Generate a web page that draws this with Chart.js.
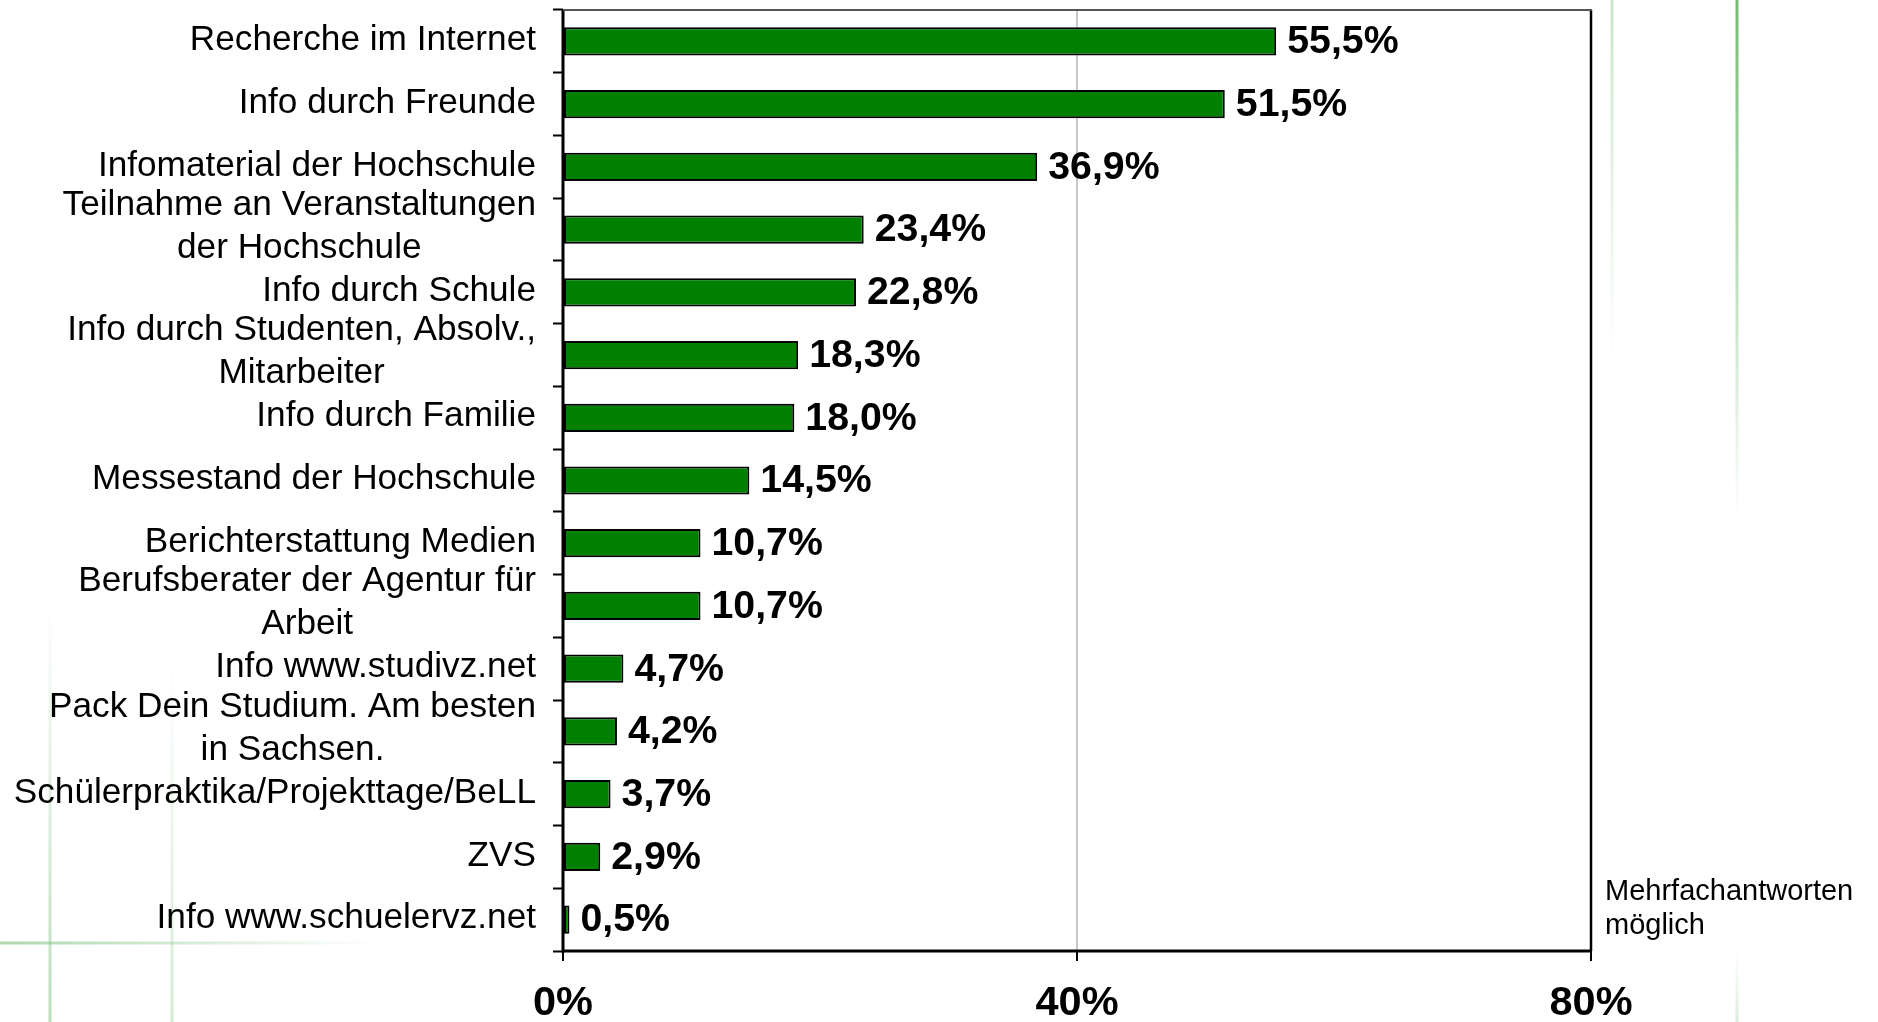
<!DOCTYPE html>
<html><head><meta charset="utf-8">
<script src="https://cdn.jsdelivr.net/npm/chart.js@4/dist/chart.umd.min.js"></script>
<style>html,body{margin:0;padding:0;background:#fff;overflow:hidden}#wrap{width:1878px;height:1022px;position:relative}</style>
</head><body><div id="wrap"><canvas id="c" width="1878" height="1022"></canvas></div>
<script>
const categories = [
  ["Recherche im Internet"],
  ["Info durch Freunde"],
  ["Infomaterial der Hochschule"],
  ["Teilnahme an Veranstaltungen", "der Hochschule"],
  ["Info durch Schule"],
  ["Info durch Studenten, Absolv.,", "Mitarbeiter"],
  ["Info durch Familie"],
  ["Messestand der Hochschule"],
  ["Berichterstattung Medien"],
  ["Berufsberater der Agentur für", "Arbeit"],
  ["Info www.studivz.net"],
  ["Pack Dein Studium. Am besten", "in Sachsen."],
  ["Schülerpraktika/Projekttage/BeLL"],
  ["ZVS"],
  ["Info www.schuelervz.net"]
];
const values = [55.5, 51.5, 36.9, 23.4, 22.8, 18.3, 18.0, 14.5, 10.7, 10.7, 4.7, 4.2, 3.7, 2.9, 0.5];
const xTicks = [0, 40, 80];
const note = ["Mehrfachantworten", "möglich"];

const FONT = '"Liberation Sans", Arial, Helvetica, sans-serif';

const decoPlugin = {
  id: 'deco',
  beforeDraw(chart) {
    const ctx = chart.ctx;
    ctx.save();
    ctx.fillStyle = '#fff';
    ctx.fillRect(0, 0, chart.width, chart.height);
    function vline(x, y0, y1, c0, c1, w) {
      const g = ctx.createLinearGradient(0, y0, 0, y1);
      g.addColorStop(0, c0); g.addColorStop(1, c1);
      ctx.strokeStyle = g; ctx.lineWidth = w;
      ctx.beginPath(); ctx.moveTo(x, y0); ctx.lineTo(x, y1); ctx.stroke();
    }
    function hline(y, x0, x1, c0, c1, w) {
      const g = ctx.createLinearGradient(x0, 0, x1, 0);
      g.addColorStop(0, c0); g.addColorStop(1, c1);
      ctx.strokeStyle = g; ctx.lineWidth = w;
      ctx.beginPath(); ctx.moveTo(x0, y); ctx.lineTo(x1, y); ctx.stroke();
    }
    hline(943, 0, 380, 'rgba(140,200,140,0.7)', 'rgba(140,200,140,0)', 3);
    vline(50, 600, 1022, 'rgba(140,200,140,0)', 'rgba(140,200,140,0.6)', 3);
    vline(172, 650, 1022, 'rgba(160,210,160,0)', 'rgba(160,210,160,0.45)', 3);
    vline(1612, 0, 370, 'rgba(150,205,150,0.5)', 'rgba(150,205,150,0)', 3);
    vline(1737, 0, 520, 'rgba(100,180,100,0.9)', 'rgba(100,180,100,0)', 3);
    vline(1737, 950, 1022, 'rgba(150,205,150,0)', 'rgba(150,205,150,0.35)', 3);
    ctx.restore();
  }
};

const framePlugin = {
  id: 'frame',
  afterDatasetsDraw(chart) {
    const ctx = chart.ctx, a = chart.chartArea;
    ctx.save();
    ctx.lineCap = 'butt';
    ctx.strokeStyle = '#000';
    ctx.lineWidth = 3;
    ctx.beginPath(); ctx.moveTo(a.left, a.top); ctx.lineTo(a.left, a.bottom + 1.5); ctx.stroke();
    ctx.beginPath(); ctx.moveTo(a.left, a.bottom); ctx.lineTo(a.right, a.bottom); ctx.stroke();
    ctx.lineWidth = 2.5;
    ctx.beginPath(); ctx.moveTo(a.right, a.top); ctx.lineTo(a.right, a.bottom); ctx.stroke();
    ctx.strokeStyle = '#555';
    ctx.lineWidth = 2;
    ctx.beginPath(); ctx.moveTo(a.left, a.top); ctx.lineTo(a.right + 1, a.top); ctx.stroke();

    const meta = chart.getDatasetMeta(0);
    ctx.fillStyle = '#000';
    ctx.font = 'bold 39.3px ' + FONT;
    ctx.textAlign = 'left';
    ctx.textBaseline = 'middle';
    meta.data.forEach((el, i) => {
      const txt = values[i].toFixed(1).replace('.', ',') + '%';
      ctx.fillText(txt, el.x + 11, el.y + 1);
    });

    const ys = chart.scales.y;
    ctx.font = '35.2px ' + FONT;
    ctx.textAlign = 'center';
    const lh = 43;
    categories.forEach((lines, i) => {
      const y = ys.getPixelForValue(i);
      let maxW = 0;
      lines.forEach(l => { maxW = Math.max(maxW, ctx.measureText(l).width); });
      const cx = 536 - maxW / 2;
      const y0 = y - (lines.length - 1) * lh / 2 - (lines.length > 1 ? 3 : 1);
      lines.forEach((l, k) => ctx.fillText(l, cx, y0 + k * lh));
    });

    ctx.font = '29px ' + FONT;
    ctx.textAlign = 'left';
    ctx.fillText(note[0], 1605, 892);
    ctx.fillText(note[1], 1605, 926);
    ctx.restore();
  }
};

new Chart(document.getElementById('c'), {
  type: 'bar',
  data: {
    labels: categories.map(c => c.join(' ')),
    datasets: [{
      data: values,
      backgroundColor: '#008000',
      borderColor: '#000',
      borderWidth: 2,
      borderSkipped: false,
      categoryPercentage: 1,
      barPercentage: 0.45
    }]
  },
  options: {
    indexAxis: 'y',
    responsive: false,
    animation: false,
    devicePixelRatio: 1,
    layout: { padding: { top: 10, right: 287, left: 0, bottom: 0 } },
    plugins: { legend: { display: false }, tooltip: { enabled: false } },
    scales: {
      x: {
        type: 'linear', min: 0, max: 80,
        afterBuildTicks: s => { s.ticks = xTicks.map(v => ({ value: v })); },
        afterFit: s => { s.height = 71; },
        ticks: {
          callback: v => v + '%',
          font: { family: FONT, size: 41.5, weight: 'bold' },
          color: '#000', padding: 18, maxRotation: 0, autoSkip: false
        },
        grid: { color: '#c8c8c8', lineWidth: 2, tickColor: '#000', tickWidth: 2, tickLength: 10 },
        border: { display: false }
      },
      y: {
        type: 'category',
        offset: true,
        afterFit: s => { s.width = 563; },
        ticks: { display: false },
        grid: { drawOnChartArea: false, offset: true, tickColor: '#000', tickWidth: 2, tickLength: 10 },
        border: { display: false }
      }
    }
  },
  plugins: [decoPlugin, framePlugin]
});
</script>
</body></html>
